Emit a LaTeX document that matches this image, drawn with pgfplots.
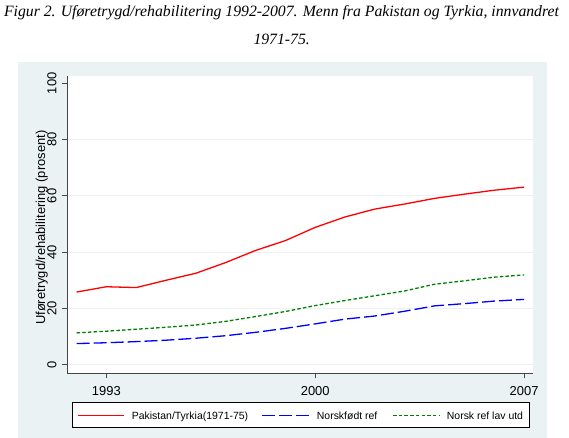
\documentclass[border=0pt]{standalone}
\usepackage{fontspec}
\setmainfont{Liberation Sans}
\newfontfamily\titlefont{Liberation Serif}
\usepackage{pgfplots}
\pgfplotsset{compat=1.18}
\definecolor{bgc}{RGB}{234,242,243}
\definecolor{grn}{RGB}{0,128,0}
\definecolor{axc}{RGB}{70,70,70}

\pgfplotstableread{
year red blue green
1992 25.8 7.5 11.3
1993 27.7 7.8 11.9
1994 27.4 8.2 12.6
1995 30.0 8.7 13.3
1996 32.5 9.4 14.1
1997 36.3 10.3 15.4
1998 40.6 11.5 17.1
1999 44.1 12.9 18.9
2000 48.8 14.5 21.0
2001 52.5 16.2 22.8
2002 55.3 17.3 24.5
2003 57.1 19.0 26.2
2004 59.1 20.9 28.6
2005 60.6 21.7 29.8
2006 62.0 22.6 31.1
2007 63.1 23.2 31.9
}\datatable

\begin{document}
\begin{tikzpicture}[x=1bp,y=1bp]
\useasboundingbox (0,0) rectangle (569,438);
\fill[white] (0,0) rectangle (569,438);
\fill[bgc] (18,0) rectangle (547,376.3);
\node[anchor=base, font=\titlefont\itshape\fontsize{15.8}{15.8}\selectfont, inner sep=0pt] at (281.5,421.3) {Figur 2. Uføretrygd/rehabilitering 1992-2007. Menn fra Pakistan og Tyrkia, innvandret};
\node[anchor=base, font=\titlefont\itshape\fontsize{15.8}{15.8}\selectfont, inner sep=0pt] at (281.7,393) {1971-75.};
% legend (drawn as a key box below the axis)
\filldraw[fill=white, draw=black, line width=0.8bp] (72.3,10.3) rectangle (529,35.3);
\draw[red, line width=1.3bp] (77.7,22.8) -- (124,22.8);
\draw[blue, line width=1.3bp, dash pattern=on 13bp off 4bp] (262,22.8) -- (309,22.8);
\draw[grn, line width=1.3bp, dash pattern=on 3.5bp off 2.2bp] (393,22.8) -- (440,22.8);
\node[anchor=base west, inner sep=0pt, font=\fontsize{10.5}{10.5}\selectfont] at (131.7,18.8) {Pakistan/Tyrkia(1971-75)};
\node[anchor=base west, inner sep=0pt, font=\fontsize{10.5}{10.5}\selectfont] at (316.7,18.8) {Norskfødt ref};
\node[anchor=base west, inner sep=0pt, font=\fontsize{10.5}{10.5}\selectfont] at (446.7,18.8) {Norsk ref lav utd};
\begin{axis}[
  at={(67.3bp,64.7bp)}, anchor=south west,
  scale only axis, width=466bp, height=297.6bp,
  xmin=1991.69, xmax=2007.31, ymin=-3.06, ymax=102.7,
  axis x line*=bottom, axis y line*=left,
  axis line style={-, axc, line width=1bp},
  axis background/.style={fill=white},
  xtick={1993,2000,2007}, ytick={0,20,40,60,80},
  extra y ticks={100}, extra y tick style={grid=none},
  xticklabels={1993,2000,2007},
  yticklabels={0,20,40,60,80},
  extra y tick labels={100},
  tick align=outside, major tick length=5bp,
  tick style={axc, line width=0.8bp},
  ymajorgrids, grid style={bgc, line width=1.2bp},
  ticklabel style={font=\fontsize{13}{13}\selectfont},
  yticklabel style={rotate=90, anchor=south, inner xsep=0pt, inner ysep=5.5bp},
  xticklabel style={anchor=north, inner xsep=0pt, inner ysep=7.5bp},
  ylabel={Uføretrygd/rehabilitering (prosent)},
  ylabel style={at={([xshift=-25.6bp]axis description cs:0,0.489)}, anchor=center, font=\fontsize{13}{13}\selectfont},
]
\addplot[red, line width=1.3bp] table[x=year, y=red] {\datatable};
\addplot[blue, line width=1.3bp, dash pattern=on 13bp off 4bp] table[x=year, y=blue] {\datatable};
\addplot[grn, line width=1.3bp, dash pattern=on 3.5bp off 2.2bp] table[x=year, y=green] {\datatable};
\end{axis}
\end{tikzpicture}
\end{document}
